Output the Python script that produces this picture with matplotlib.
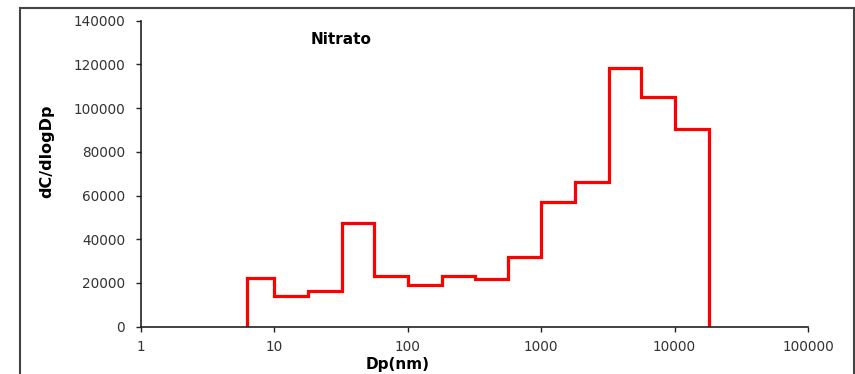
import matplotlib
matplotlib.use("Agg")
import matplotlib.pyplot as plt
from matplotlib.patches import Rectangle

# Size-bin edges (nm) and nitrate concentration per bin
bin_edges = [6.2, 10, 18, 32, 56, 100, 180, 320, 560, 1000, 1800, 3200, 5600, 10000, 18000]
dc_dlogdp = [22500, 14000, 16500, 47500, 23000, 19000, 23000, 22000, 32000, 57000, 66000,
             118500, 105000, 90500]

x_ticks = [1, 10, 100, 1000, 10000, 100000]
x_tick_labels = ["1", "10", "100", "1000", "10000", "100000"]
y_ticks = [0, 20000, 40000, 60000, 80000, 100000, 120000, 140000]

fig = plt.figure(figsize=(8.55, 3.74), dpi=100)
ax = fig.add_axes([0.1649, 0.1265, 0.7801, 0.8182])

ax.stairs(dc_dlogdp, bin_edges, baseline=0, color="#ff0000", linewidth=2.3)

ax.set_xscale("log")
ax.set_xlim(1, 100000)
ax.set_ylim(0, 140000)
ax.set_xticks(x_ticks)
ax.set_xticklabels(x_tick_labels)
ax.minorticks_off()
ax.set_yticks(y_ticks)
ax.set_yticklabels([str(v) for v in y_ticks])

for side in ("top", "right"):
    ax.spines[side].set_visible(False)
for side in ("left", "bottom"):
    ax.spines[side].set_color("#222222")
    ax.spines[side].set_linewidth(1.2)

ax.tick_params(axis="both", direction="out", length=3.5, width=1.0, color="#222222",
               labelsize=9.8, labelcolor="#333333")
ax.tick_params(axis="y", pad=8)
ax.tick_params(axis="x", pad=6)

ax.set_xlabel("Dp(nm)", fontsize=11, fontweight="bold")
ax.xaxis.set_label_coords(0.385, -0.098)
ax.set_ylabel("dC/dlogDp", fontsize=11.5, fontweight="bold")
ax.yaxis.set_label_coords(-0.13, 0.574)

fig.text(341 / 855, 1 - 40 / 374, "Nitrato", fontsize=11, fontweight="bold",
         ha="center", va="center")

# Outer frame around the chart area
fig.patches.append(Rectangle((20 / 855, -0.1), (854 - 20) / 855, 1.1 - 8 / 374,
                             transform=fig.transFigure, fill=False,
                             edgecolor="#444444", linewidth=1.5))

fig.savefig("out.png", dpi=100)
